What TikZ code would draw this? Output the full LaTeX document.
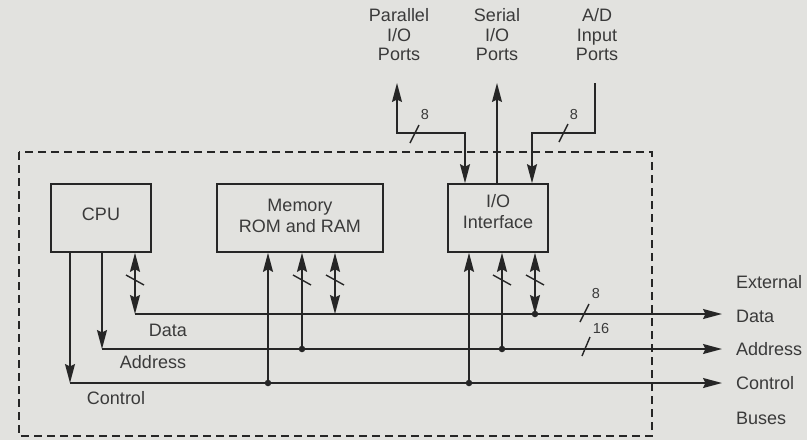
\documentclass[tikz,border=0pt]{standalone}
\usepackage{fontspec}
\setmainfont{Liberation Sans}
\usetikzlibrary{arrows.meta}
\definecolor{bg}{RGB}{226,226,223}
\definecolor{ink}{RGB}{38,38,38}
\definecolor{txt}{RGB}{58,58,58}
\begin{document}
\begin{tikzpicture}[x=1pt,y=-1pt,
  >={Stealth[length=19pt,width=10pt,inset=2.5pt]},
  wire/.style={draw=ink,line width=1.6pt},
  box/.style={draw=ink,line width=1.6pt,minimum height=68pt,inner sep=0pt},
  lab/.style={font=\fontsize{18}{19.5}\selectfont,text=txt,align=center,inner sep=0pt},
  boxtext/.style={font=\fontsize{18}{21}\selectfont,text=txt,align=center,inner sep=0pt},
  small/.style={font=\fontsize{14.5}{14.5}\selectfont,text=txt,inner sep=0pt},
  jdot/.style={circle,fill=ink,inner sep=0pt,minimum size=6.5pt},
  slash/.style={draw=ink,line width=1.4pt},
  frame/.style={draw=ink,line width=1.3pt,dash pattern=on 8pt off 5pt}
]
\fill[bg] (0,0) rectangle (807,440);
\useasboundingbox (0,0) rectangle (807,440);

% dashed system boundary
\draw[frame] (19,152) rectangle (652,436);

% boxes
\node[box,minimum width=100pt] (cpu) at (101,218) {};
\node[box,minimum width=166pt] (mem) at (300,218) {};
\node[box,minimum width=100pt] (io) at (498,218) {};
\node[boxtext] (cpuT) at ([yshift=4pt]cpu.center) {CPU};
\node[boxtext] (memT) at ([yshift=2pt]mem.center) {Memory\\ROM and RAM};
\node[boxtext] (ioT) at ([yshift=6pt]io.center) {I/O\\Interface};

% bus coordinates
\coordinate (datL) at (135,314); \coordinate (datR) at (722,314);
\coordinate (adrL) at (102,349); \coordinate (adrR) at (722,349);
\coordinate (ctlL) at (70,383);  \coordinate (ctlR) at (722,383);

% junctions
\coordinate (mc) at (268,383); \coordinate (ma) at (302,349); \coordinate (md) at (335,314);
\coordinate (ic) at (469,383); \coordinate (ia) at (502,349); \coordinate (id) at (535,314);

% buses
\draw[wire,->] (datL) -- (datR);
\draw[wire,->] (adrL) -- (adrR);
\draw[wire,->] (ctlL) -- (ctlR);

% CPU connections
\draw[wire,->] (cpu.south -| ctlL) -- (ctlL);
\draw[wire,->] (cpu.south -| adrL) -- (adrL);
\draw[wire,<->] (cpu.south -| datL) -- (datL);

% memory connections
\draw[wire,->] (mc) -- (mc |- mem.south);
\draw[wire,->] (ma) -- (ma |- mem.south);
\draw[wire,<->] (mem.south -| md) -- (md);

% I/O connections
\draw[wire,->] (ic) -- (ic |- io.south);
\draw[wire,->] (ia) -- (ia |- io.south);
\draw[wire,<->] (io.south -| id) -- (id);

% junction dots
\foreach \p in {mc,ma,ic,ia,id} \node[jdot] at (\p) {};

% slashes on vertical lines
\foreach \x in {135,302,335,502,535} \draw[slash] (\x-9,275) -- (\x+9,285);

% slashes and widths on buses
\draw[slash] (580,322) -- (589,304);
\node[small] (w8) at (596,294) {8};
\draw[slash] (582,356) -- (590,337);
\node[small] (w16) at (601,329) {16};

% port labels
\node[lab] (par) at (399,35) {Parallel\\I/O\\Ports};
\node[lab] (ser) at (497,35) {Serial\\I/O\\Ports};
\node[lab] (adc) at (597,35) {A/D\\Input\\Ports};

% port wires
\coordinate (pt) at (397,83); \coordinate (pc) at (397,133); \coordinate (pd) at (465,133);
\draw[wire,<->] (pt) -- (pc) -- (pd) -- (io.north -| pd);
\coordinate (st) at (497,83);
\draw[wire,->] (io.north -| st) -- (st);
\coordinate (at) at (595,83); \coordinate (ac) at (595,133); \coordinate (ad) at (532,133);
\draw[wire,->] (at) -- (ac) -- (ad) -- (io.north -| ad);

\draw[slash] (410,143) -- (419,125);
\node[small] (p8) at (425,115) {8};
\draw[slash] (559,142) -- (568,124);
\node[small] (a8) at (574,115) {8};

% left bus labels
\node[lab] (ldat) at (168,330) {Data};
\node[lab] (ladr) at (153,362) {Address};
\node[lab] (lctl) at (116,398) {Control};

% right bus labels
\node[lab,anchor=west] (rext) at (736,282) {External};
\node[lab,anchor=west] (rdat) at (736,316) {Data};
\node[lab,anchor=west] (radr) at (736,349) {Address};
\node[lab,anchor=west] (rctl) at (736,383) {Control};
\node[lab,anchor=west] (rbus) at (736,418) {Buses};
\end{tikzpicture}
\end{document}
